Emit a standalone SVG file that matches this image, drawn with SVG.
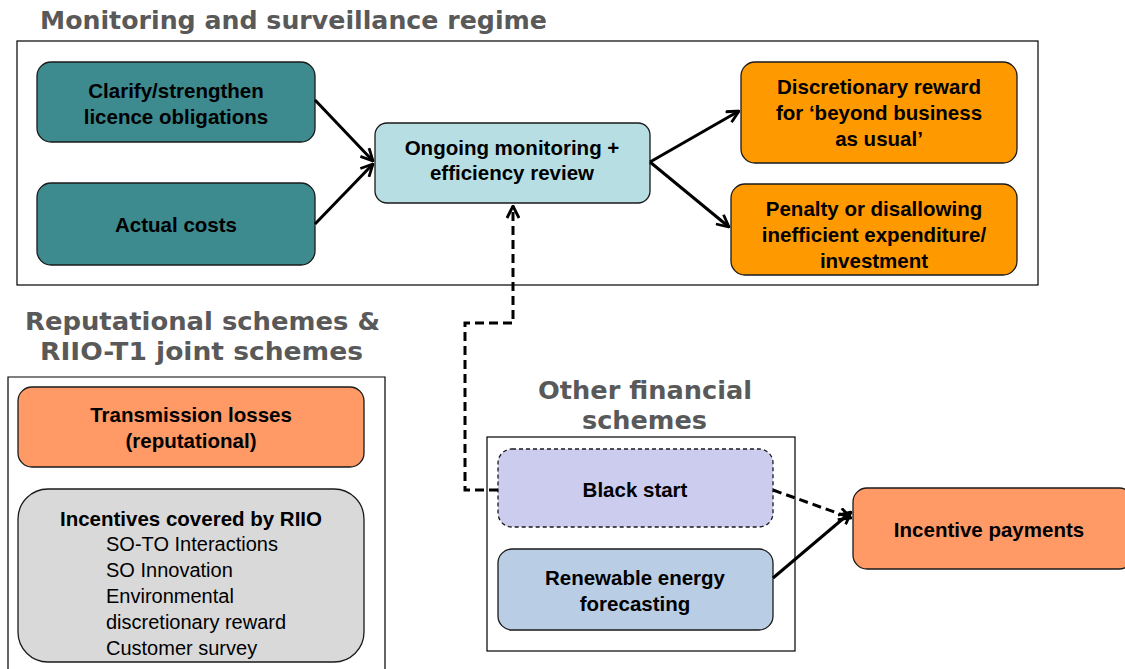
<svg xmlns="http://www.w3.org/2000/svg" width="1125" height="669" viewBox="0 0 1125 669">
<style>
.frame{fill:#fff;stroke:#000;stroke-width:1.2}
.node{stroke:#1a1a1a;stroke-width:1.3}
.lbl{font-family:"Liberation Sans",Arial,sans-serif;font-weight:bold;font-size:20.5px;fill:#000;text-anchor:middle}
.reg{font-family:"Liberation Sans",Arial,sans-serif;font-size:20px;fill:#000}
.title{font-family:"DejaVu Sans",Verdana,sans-serif;font-weight:bold;font-size:24px;fill:#595959}
.conn{fill:none;stroke:#000;stroke-width:3}
.dash{stroke-dasharray:9,5}
</style>
<defs>
<marker id="arr" viewBox="0 0 14 14" refX="13" refY="7" markerWidth="14" markerHeight="14" markerUnits="userSpaceOnUse" orient="auto">
<path d="M1,1 L13,7 L1,13" fill="none" stroke="#000" stroke-width="2.8"/>
</marker>
</defs>
<rect width="1125" height="669" fill="#fff"/>

<g id="frames">
<rect class="frame" x="17" y="41" width="1021" height="244"/>
<text class="title" x="40" y="29" textLength="507" lengthAdjust="spacingAndGlyphs">Monitoring and surveillance regime</text>
<path class="frame" d="M8,680 V377 H385 V680"/>
<text class="title" x="25" y="330" textLength="355" lengthAdjust="spacingAndGlyphs">Reputational  schemes &amp;</text>
<text class="title" x="40" y="360" textLength="323" lengthAdjust="spacingAndGlyphs">RIIO-T1 joint schemes</text>
<rect class="frame" x="487" y="437" width="308" height="214"/>
<text class="title" x="538" y="399" textLength="214" lengthAdjust="spacingAndGlyphs">Other financial</text>
<text class="title" x="582" y="429" textLength="125" lengthAdjust="spacingAndGlyphs">schemes</text>
</g>

<g id="clarify">
<rect class="node" x="37" y="62" width="278" height="80" rx="14" fill="#3D8A8F"/>
<text class="lbl" x="176" y="98">Clarify/strengthen</text>
<text class="lbl" x="176" y="124">licence obligations</text>
</g>
<g id="actual-costs">
<rect class="node" x="37" y="183" width="278" height="82" rx="14" fill="#3D8A8F"/>
<text class="lbl" x="176" y="232">Actual costs</text>
</g>
<g id="ongoing">
<rect class="node" x="375" y="123" width="275" height="80" rx="12" fill="#B7DFE3"/>
<text class="lbl" x="512" y="155">Ongoing monitoring +</text>
<text class="lbl" x="512" y="180">efficiency review</text>
</g>
<g id="discretionary">
<rect class="node" x="741" y="62" width="276" height="101" rx="14" fill="#FF9900"/>
<text class="lbl" x="879" y="94">Discretionary reward</text>
<text class="lbl" x="879" y="120">for ‘beyond business</text>
<text class="lbl" x="879" y="146">as usual’</text>
</g>
<g id="penalty">
<rect class="node" x="731" y="184" width="286" height="91" rx="14" fill="#FF9900"/>
<text class="lbl" x="874" y="216">Penalty or disallowing</text>
<text class="lbl" x="874" y="242">inefficient expenditure/</text>
<text class="lbl" x="874" y="268">investment</text>
</g>
<g id="transmission-losses">
<rect class="node" x="18" y="387" width="346" height="80" rx="14" fill="#FF9966"/>
<text class="lbl" x="191" y="422">Transmission losses</text>
<text class="lbl" x="191" y="448">(reputational)</text>
</g>
<g id="riio-incentives">
<rect class="node" x="18" y="489" width="346" height="173" rx="30" fill="#D9D9D9"/>
<text class="lbl" x="191" y="526">Incentives covered by RIIO</text>
<text class="reg" x="106" y="551">SO-TO Interactions</text>
<text class="reg" x="106" y="577">SO Innovation</text>
<text class="reg" x="106" y="603">Environmental</text>
<text class="reg" x="106" y="629">discretionary reward</text>
<text class="reg" x="106" y="655">Customer survey</text>
</g>
<g id="black-start">
<rect x="498" y="449" width="275" height="78" rx="14" fill="#CCCCEE" stroke="#1a1a1a" stroke-width="1.3" stroke-dasharray="4,3"/>
<text class="lbl" x="635" y="497">Black start</text>
</g>
<g id="renewable">
<rect class="node" x="498" y="549" width="275" height="81" rx="14" fill="#B9CDE4"/>
<text class="lbl" x="635" y="585">Renewable energy</text>
<text class="lbl" x="635" y="611">forecasting</text>
</g>
<g id="incentive-payments">
<rect class="node" x="853" y="488" width="280" height="81" rx="14" fill="#FF9966"/>
<text class="lbl" x="989" y="537">Incentive payments</text>
</g>

<g id="connectors">
<line class="conn" x1="315" y1="100" x2="373" y2="161" marker-end="url(#arr)"/>
<line class="conn" x1="315" y1="224" x2="373" y2="164" marker-end="url(#arr)"/>
<line class="conn" x1="650" y1="162" x2="739" y2="111" marker-end="url(#arr)"/>
<line class="conn" x1="650" y1="162" x2="729" y2="227" marker-end="url(#arr)"/>
<polyline class="conn dash" points="498,490 465,490 465,323 513,323 513,206" marker-end="url(#arr)"/>
<line class="conn dash" x1="773" y1="490" x2="851" y2="518" marker-end="url(#arr)"/>
<line class="conn" x1="773" y1="578" x2="851" y2="512" marker-end="url(#arr)"/>
</g>
</svg>
